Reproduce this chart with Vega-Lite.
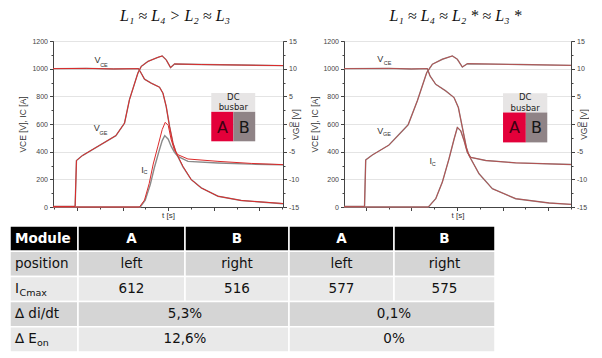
{
"$schema": "https://vega.github.io/schema/vega-lite/v6.json",
"background": "white",
"padding": {"left": 9, "top": 7, "right": 0, "bottom": 0},
"config": {
  "view": {"stroke": "#444", "strokeWidth": 1},
  "font": "Liberation Sans",
  "axis": {"labelFont": "Liberation Sans", "labelFontSize": 7, "labelColor": "#444", "titleFont": "Liberation Sans", "titleFontSize": 8.5, "titleFontWeight": "normal", "titleColor": "#333", "domainColor": "#444", "tickColor": "#444", "gridColor": "#e4e4e4"},
  "title": {"font": "Liberation Serif", "fontStyle": "italic", "fontSize": 16, "fontWeight": "normal", "color": "#111"}
},
"datasets": {
  "curves": [
    {"p":1,"m":"B","s":"VCE","t":-0.53,"v":1000},{"p":1,"m":"B","s":"VCE","t":0.2,"v":1002},{"p":1,"m":"B","s":"VCE","t":0.8,"v":998},{"p":1,"m":"B","s":"VCE","t":1.347,"v":1000},{"p":1,"m":"B","s":"VCE","t":1.407,"v":967},{"p":1,"m":"B","s":"VCE","t":1.479,"v":924},{"p":1,"m":"B","s":"VCE","t":1.626,"v":895},{"p":1,"m":"B","s":"VCE","t":1.809,"v":866},{"p":1,"m":"B","s":"VCE","t":1.884,"v":823},{"p":1,"m":"B","s":"VCE","t":1.956,"v":726},{"p":1,"m":"B","s":"VCE","t":2.029,"v":582},{"p":1,"m":"B","s":"VCE","t":2.103,"v":463},{"p":1,"m":"B","s":"VCE","t":2.176,"v":388},{"p":1,"m":"B","s":"VCE","t":2.323,"v":290},{"p":1,"m":"B","s":"VCE","t":2.505,"v":198},{"p":1,"m":"B","s":"VCE","t":2.725,"v":138},{"p":1,"m":"B","s":"VCE","t":3.092,"v":78},{"p":1,"m":"B","s":"VCE","t":3.604,"v":47},{"p":1,"m":"B","s":"VCE","t":4.52,"v":24},
    {"p":1,"m":"A","s":"VCE","t":-0.53,"v":1000},{"p":1,"m":"A","s":"VCE","t":0.2,"v":1002},{"p":1,"m":"A","s":"VCE","t":0.8,"v":998},{"p":1,"m":"A","s":"VCE","t":1.347,"v":1000},{"p":1,"m":"A","s":"VCE","t":1.407,"v":967},{"p":1,"m":"A","s":"VCE","t":1.479,"v":924},{"p":1,"m":"A","s":"VCE","t":1.626,"v":895},{"p":1,"m":"A","s":"VCE","t":1.809,"v":866},{"p":1,"m":"A","s":"VCE","t":1.884,"v":823},{"p":1,"m":"A","s":"VCE","t":1.956,"v":726},{"p":1,"m":"A","s":"VCE","t":2.029,"v":582},{"p":1,"m":"A","s":"VCE","t":2.103,"v":463},{"p":1,"m":"A","s":"VCE","t":2.176,"v":391},{"p":1,"m":"A","s":"VCE","t":2.323,"v":294},{"p":1,"m":"A","s":"VCE","t":2.505,"v":198},{"p":1,"m":"A","s":"VCE","t":2.725,"v":138},{"p":1,"m":"A","s":"VCE","t":3.092,"v":78},{"p":1,"m":"A","s":"VCE","t":3.604,"v":47},{"p":1,"m":"A","s":"VCE","t":4.52,"v":25},
    {"p":1,"m":"B","s":"IC","t":-0.53,"v":0},{"p":1,"m":"B","s":"IC","t":1.385,"v":0},{"p":1,"m":"B","s":"IC","t":1.495,"v":50},{"p":1,"m":"B","s":"IC","t":1.604,"v":160},{"p":1,"m":"B","s":"IC","t":1.692,"v":280},{"p":1,"m":"B","s":"IC","t":1.795,"v":400},{"p":1,"m":"B","s":"IC","t":1.868,"v":480},{"p":1,"m":"B","s":"IC","t":1.923,"v":516},{"p":1,"m":"B","s":"IC","t":2.0,"v":490},{"p":1,"m":"B","s":"IC","t":2.066,"v":438},{"p":1,"m":"B","s":"IC","t":2.138,"v":395},{"p":1,"m":"B","s":"IC","t":2.213,"v":366},{"p":1,"m":"B","s":"IC","t":2.433,"v":330},{"p":1,"m":"B","s":"IC","t":3.092,"v":318},{"p":1,"m":"B","s":"IC","t":3.824,"v":310},{"p":1,"m":"B","s":"IC","t":4.52,"v":305},
    {"p":1,"m":"A","s":"IC","t":-0.53,"v":0},{"p":1,"m":"A","s":"IC","t":1.369,"v":0},{"p":1,"m":"A","s":"IC","t":1.479,"v":50},{"p":1,"m":"A","s":"IC","t":1.582,"v":170},{"p":1,"m":"A","s":"IC","t":1.67,"v":310},{"p":1,"m":"A","s":"IC","t":1.774,"v":440},{"p":1,"m":"A","s":"IC","t":1.868,"v":560},{"p":1,"m":"A","s":"IC","t":1.934,"v":612},{"p":1,"m":"A","s":"IC","t":2.0,"v":590},{"p":1,"m":"A","s":"IC","t":2.066,"v":486},{"p":1,"m":"A","s":"IC","t":2.138,"v":410},{"p":1,"m":"A","s":"IC","t":2.213,"v":378},{"p":1,"m":"A","s":"IC","t":2.433,"v":347},{"p":1,"m":"A","s":"IC","t":3.092,"v":330},{"p":1,"m":"A","s":"IC","t":3.824,"v":315},{"p":1,"m":"A","s":"IC","t":4.52,"v":306},
    {"p":1,"m":"B","s":"VGE","t":-0.53,"v":-14.9},{"p":1,"m":"B","s":"VGE","t":-0.044,"v":-14.9},{"p":1,"m":"B","s":"VGE","t":-0.015,"v":-6.6},{"p":1,"m":"B","s":"VGE","t":0.116,"v":-5.7},{"p":1,"m":"B","s":"VGE","t":0.484,"v":-3.9},{"p":1,"m":"B","s":"VGE","t":0.851,"v":-2.1},{"p":1,"m":"B","s":"VGE","t":1.04,"v":0.15},{"p":1,"m":"B","s":"VGE","t":1.149,"v":4.4},{"p":1,"m":"B","s":"VGE","t":1.334,"v":9.2},{"p":1,"m":"B","s":"VGE","t":1.407,"v":10.4},{"p":1,"m":"B","s":"VGE","t":1.554,"v":11.3},{"p":1,"m":"B","s":"VGE","t":1.774,"v":12.05},{"p":1,"m":"B","s":"VGE","t":1.868,"v":12.3},{"p":1,"m":"B","s":"VGE","t":1.956,"v":11.6},{"p":1,"m":"B","s":"VGE","t":2.051,"v":10.2},{"p":1,"m":"B","s":"VGE","t":2.138,"v":10.85},{"p":1,"m":"B","s":"VGE","t":2.725,"v":10.75},{"p":1,"m":"B","s":"VGE","t":3.6,"v":10.65},{"p":1,"m":"B","s":"VGE","t":4.52,"v":10.55},
    {"p":1,"m":"A","s":"VGE","t":-0.53,"v":-14.9},{"p":1,"m":"A","s":"VGE","t":-0.044,"v":-14.9},{"p":1,"m":"A","s":"VGE","t":-0.015,"v":-6.6},{"p":1,"m":"A","s":"VGE","t":0.116,"v":-5.7},{"p":1,"m":"A","s":"VGE","t":0.484,"v":-3.9},{"p":1,"m":"A","s":"VGE","t":0.851,"v":-2.1},{"p":1,"m":"A","s":"VGE","t":1.04,"v":0.15},{"p":1,"m":"A","s":"VGE","t":1.149,"v":4.4},{"p":1,"m":"A","s":"VGE","t":1.334,"v":9.2},{"p":1,"m":"A","s":"VGE","t":1.407,"v":10.4},{"p":1,"m":"A","s":"VGE","t":1.554,"v":11.3},{"p":1,"m":"A","s":"VGE","t":1.774,"v":12.05},{"p":1,"m":"A","s":"VGE","t":1.868,"v":12.3},{"p":1,"m":"A","s":"VGE","t":1.956,"v":11.6},{"p":1,"m":"A","s":"VGE","t":2.051,"v":10.2},{"p":1,"m":"A","s":"VGE","t":2.138,"v":10.85},{"p":1,"m":"A","s":"VGE","t":2.725,"v":10.75},{"p":1,"m":"A","s":"VGE","t":3.6,"v":10.65},{"p":1,"m":"A","s":"VGE","t":4.52,"v":10.55},
    {"p":2,"m":"B","s":"VCE","t":-0.476,"v":1000},{"p":2,"m":"B","s":"VCE","t":0.5,"v":1002},{"p":2,"m":"B","s":"VCE","t":1.0,"v":998},{"p":2,"m":"B","s":"VCE","t":1.351,"v":1000},{"p":2,"m":"B","s":"VCE","t":1.41,"v":947},{"p":2,"m":"B","s":"VCE","t":1.535,"v":887},{"p":2,"m":"B","s":"VCE","t":1.754,"v":839},{"p":2,"m":"B","s":"VCE","t":1.936,"v":791},{"p":2,"m":"B","s":"VCE","t":2.031,"v":719},{"p":2,"m":"B","s":"VCE","t":2.118,"v":575},{"p":2,"m":"B","s":"VCE","t":2.206,"v":431},{"p":2,"m":"B","s":"VCE","t":2.265,"v":372},{"p":2,"m":"B","s":"VCE","t":2.485,"v":240},{"p":2,"m":"B","s":"VCE","t":2.776,"v":132},{"p":2,"m":"B","s":"VCE","t":3.289,"v":60},{"p":2,"m":"B","s":"VCE","t":4.02,"v":29},{"p":2,"m":"B","s":"VCE","t":4.5,"v":19},
    {"p":2,"m":"A","s":"VCE","t":-0.476,"v":1000},{"p":2,"m":"A","s":"VCE","t":0.5,"v":1002},{"p":2,"m":"A","s":"VCE","t":1.0,"v":998},{"p":2,"m":"A","s":"VCE","t":1.351,"v":1000},{"p":2,"m":"A","s":"VCE","t":1.41,"v":947},{"p":2,"m":"A","s":"VCE","t":1.535,"v":887},{"p":2,"m":"A","s":"VCE","t":1.754,"v":839},{"p":2,"m":"A","s":"VCE","t":1.936,"v":791},{"p":2,"m":"A","s":"VCE","t":2.031,"v":719},{"p":2,"m":"A","s":"VCE","t":2.118,"v":575},{"p":2,"m":"A","s":"VCE","t":2.206,"v":431},{"p":2,"m":"A","s":"VCE","t":2.265,"v":372},{"p":2,"m":"A","s":"VCE","t":2.485,"v":240},{"p":2,"m":"A","s":"VCE","t":2.776,"v":132},{"p":2,"m":"A","s":"VCE","t":3.289,"v":60},{"p":2,"m":"A","s":"VCE","t":4.02,"v":29},{"p":2,"m":"A","s":"VCE","t":4.5,"v":19},
    {"p":2,"m":"B","s":"IC","t":-0.476,"v":0},{"p":2,"m":"B","s":"IC","t":1.373,"v":0},{"p":2,"m":"B","s":"IC","t":1.535,"v":60},{"p":2,"m":"B","s":"IC","t":1.68,"v":180},{"p":2,"m":"B","s":"IC","t":1.827,"v":350},{"p":2,"m":"B","s":"IC","t":1.936,"v":490},{"p":2,"m":"B","s":"IC","t":2.009,"v":575},{"p":2,"m":"B","s":"IC","t":2.083,"v":551},{"p":2,"m":"B","s":"IC","t":2.156,"v":480},{"p":2,"m":"B","s":"IC","t":2.228,"v":395},{"p":2,"m":"B","s":"IC","t":2.303,"v":359},{"p":2,"m":"B","s":"IC","t":2.632,"v":336},{"p":2,"m":"B","s":"IC","t":3.289,"v":319},{"p":2,"m":"B","s":"IC","t":4.5,"v":307},
    {"p":2,"m":"A","s":"IC","t":-0.476,"v":0},{"p":2,"m":"A","s":"IC","t":1.373,"v":0},{"p":2,"m":"A","s":"IC","t":1.535,"v":60},{"p":2,"m":"A","s":"IC","t":1.68,"v":180},{"p":2,"m":"A","s":"IC","t":1.827,"v":350},{"p":2,"m":"A","s":"IC","t":1.936,"v":490},{"p":2,"m":"A","s":"IC","t":2.009,"v":577},{"p":2,"m":"A","s":"IC","t":2.083,"v":551},{"p":2,"m":"A","s":"IC","t":2.156,"v":480},{"p":2,"m":"A","s":"IC","t":2.228,"v":395},{"p":2,"m":"A","s":"IC","t":2.303,"v":359},{"p":2,"m":"A","s":"IC","t":2.632,"v":336},{"p":2,"m":"A","s":"IC","t":3.289,"v":319},{"p":2,"m":"A","s":"IC","t":4.5,"v":307},
    {"p":2,"m":"B","s":"VGE","t":-0.476,"v":-14.9},{"p":2,"m":"B","s":"VGE","t":-0.026,"v":-14.9},{"p":2,"m":"B","s":"VGE","t":0.0,"v":-6.5},{"p":2,"m":"B","s":"VGE","t":0.145,"v":-5.6},{"p":2,"m":"B","s":"VGE","t":0.511,"v":-3.8},{"p":2,"m":"B","s":"VGE","t":0.93,"v":-0.15},{"p":2,"m":"B","s":"VGE","t":1.132,"v":4.2},{"p":2,"m":"B","s":"VGE","t":1.338,"v":9.3},{"p":2,"m":"B","s":"VGE","t":1.461,"v":10.8},{"p":2,"m":"B","s":"VGE","t":1.68,"v":11.7},{"p":2,"m":"B","s":"VGE","t":1.899,"v":12.3},{"p":2,"m":"B","s":"VGE","t":2.009,"v":11.7},{"p":2,"m":"B","s":"VGE","t":2.118,"v":10.3},{"p":2,"m":"B","s":"VGE","t":2.228,"v":10.9},{"p":2,"m":"B","s":"VGE","t":3.36,"v":10.75},{"p":2,"m":"B","s":"VGE","t":4.5,"v":10.6},
    {"p":2,"m":"A","s":"VGE","t":-0.476,"v":-14.9},{"p":2,"m":"A","s":"VGE","t":-0.026,"v":-14.9},{"p":2,"m":"A","s":"VGE","t":0.0,"v":-6.5},{"p":2,"m":"A","s":"VGE","t":0.145,"v":-5.6},{"p":2,"m":"A","s":"VGE","t":0.511,"v":-3.8},{"p":2,"m":"A","s":"VGE","t":0.93,"v":-0.15},{"p":2,"m":"A","s":"VGE","t":1.132,"v":4.2},{"p":2,"m":"A","s":"VGE","t":1.338,"v":9.3},{"p":2,"m":"A","s":"VGE","t":1.461,"v":10.8},{"p":2,"m":"A","s":"VGE","t":1.68,"v":11.7},{"p":2,"m":"A","s":"VGE","t":1.899,"v":12.3},{"p":2,"m":"A","s":"VGE","t":2.009,"v":11.7},{"p":2,"m":"A","s":"VGE","t":2.118,"v":10.3},{"p":2,"m":"A","s":"VGE","t":2.228,"v":10.9},{"p":2,"m":"A","s":"VGE","t":3.36,"v":10.75},{"p":2,"m":"A","s":"VGE","t":4.5,"v":10.6}
  ],
  "legend": [
    {"p":1,"k":"hdr","t":2.945,"t2":3.91,"v":688,"v2":825},{"p":1,"k":"A","t":2.945,"t2":3.43,"v":475,"v2":688},{"p":1,"k":"B","t":3.43,"t2":3.91,"v":475,"v2":688},
    {"p":2,"k":"hdr","t":3.01,"t2":3.98,"v":683,"v2":822},{"p":2,"k":"A","t":3.01,"t2":3.51,"v":467,"v2":683},{"p":2,"k":"B","t":3.51,"t2":3.98,"v":467,"v2":683}
  ],
  "ltext": [
    {"p":1,"k":"hdr","t":3.43,"v":798,"txt":"DC\nbusbar"},{"p":1,"k":"A","t":3.19,"v":572,"txt":"A"},{"p":1,"k":"B","t":3.67,"v":572,"txt":"B"},
    {"p":2,"k":"hdr","t":3.495,"v":793,"txt":"DC\nbusbar"},{"p":2,"k":"A","t":3.26,"v":568,"txt":"A"},{"p":2,"k":"B","t":3.745,"v":568,"txt":"B"}
  ],
  "ann": [
    {"p":1,"k":"main","t":0.38,"v":1063,"txt":"V"},{"p":1,"k":"sub","t":0.505,"v":1025,"txt":"CE"},
    {"p":1,"k":"main","t":0.367,"v":571,"txt":"V"},{"p":1,"k":"sub","t":0.49,"v":538,"txt":"GE"},
    {"p":1,"k":"main","t":1.407,"v":270,"txt":"I"},{"p":1,"k":"sub","t":1.457,"v":254,"txt":"C"},
    {"p":2,"k":"main","t":0.254,"v":1069,"txt":"V"},{"p":2,"k":"sub","t":0.395,"v":1043,"txt":"CE"},
    {"p":2,"k":"main","t":0.254,"v":551,"txt":"V"},{"p":2,"k":"sub","t":0.38,"v":531,"txt":"GE"},
    {"p":2,"k":"main","t":1.4,"v":334,"txt":"I"},{"p":2,"k":"sub","t":1.447,"v":309,"txt":"C"}
  ],
  "cells": [
    {"r":0,"c0":0,"c1":1,"txt":"Module"},{"r":0,"c0":1,"c1":2,"txt":"A"},{"r":0,"c0":2,"c1":3,"txt":"B"},{"r":0,"c0":3,"c1":4,"txt":"A"},{"r":0,"c0":4,"c1":5,"txt":"B"},
    {"r":1,"c0":0,"c1":1,"txt":"position"},{"r":1,"c0":1,"c1":2,"txt":"left"},{"r":1,"c0":2,"c1":3,"txt":"right"},{"r":1,"c0":3,"c1":4,"txt":"left"},{"r":1,"c0":4,"c1":5,"txt":"right"},
    {"r":2,"c0":0,"c1":1,"txt":"I"},{"r":2,"c0":1,"c1":2,"txt":"612"},{"r":2,"c0":2,"c1":3,"txt":"516"},{"r":2,"c0":3,"c1":4,"txt":"577"},{"r":2,"c0":4,"c1":5,"txt":"575"},
    {"r":3,"c0":0,"c1":1,"txt":"∆ di/dt"},{"r":3,"c0":1,"c1":3,"txt":"5,3%"},{"r":3,"c0":3,"c1":5,"txt":"0,1%"},
    {"r":4,"c0":0,"c1":1,"txt":"∆ E"},{"r":4,"c0":1,"c1":3,"txt":"12,6%"},{"r":4,"c0":3,"c1":5,"txt":"0%"}
  ],
  "subs": [
    {"r":2,"c0":0,"txt":"Cmax"},{"r":4,"c0":0,"txt":"on"}
  ]
},
"spacing": 5,
"vconcat": [
  {
    "spacing": 9,
    "hconcat": [
      {
        "width": 230, "height": 166,
        "title": {"text": "L₁ ≈ L₄ > L₂ ≈ L₃", "dx": 7, "offset": 13},
        "encoding": {
          "x": {"field": "t", "type": "quantitative", "title": "t [s]", "scale": {"domain": [-0.53, 4.52], "nice": false, "zero": false},
                "axis": {"values": [-0.5,0,0.5,1,1.5,2,2.5,3,3.5,4,4.5], "labels": false, "grid": false, "tickSize": {"condition": {"test": "datum.value % 1 == 0", "value": 3.5}, "value": 2}, "titlePadding": 0, "titleFontSize": 8}}
        },
        "layer": [
          {
            "encoding": {
              "y": {"field": "v", "type": "quantitative", "title": "VCE [V], IC [A]", "scale": {"domain": [0, 1200], "nice": false, "zero": false},
                    "axis": {"values": [0,100,200,300,400,500,600,700,800,900,1000,1100,1200], "labelExpr": "datum.value % 200 == 0 ? '' + datum.value : ''", "labelOverlap": false, "grid": true, "gridOpacity": {"condition": {"test": "datum.value % 200 == 0", "value": 1}, "value": 0}, "tickSize": {"condition": {"test": "datum.value % 200 == 0", "value": 3.5}, "value": 2}, "labelPadding": 2, "titlePadding": 4}}
            },
            "layer": [
              {"data": {"name": "curves"}, "transform": [{"filter": "datum.p==1 && datum.m=='B' && datum.s!='VGE'"}], "mark": {"type": "line", "color": "#8a8a8a", "strokeWidth": 1.4}, "encoding": {"detail": {"field": "s"}}},
              {"data": {"name": "curves"}, "transform": [{"filter": "datum.p==1 && datum.m=='A' && datum.s!='VGE'"}], "mark": {"type": "line", "color": "#dc2a2a", "strokeWidth": 1}, "encoding": {"detail": {"field": "s"}}},
              {"data": {"name": "legend"}, "transform": [{"filter": "datum.p==1"}], "mark": {"type": "rect"}, "encoding": {"x2": {"field": "t2"}, "y2": {"field": "v2"}, "color": {"field": "k", "type": "nominal", "scale": {"domain": ["hdr","A","B"], "range": ["#e7e5e5","#e3003a","#8f8386"]}, "legend": null}}},
              {"data": {"name": "ltext"}, "transform": [{"filter": "datum.p==1 && datum.k=='hdr'"}], "mark": {"type": "text", "font": "DejaVu Sans", "fontSize": 8.5, "lineBreak": "\n", "lineHeight": 10.5, "color": "#222", "baseline": "middle"}, "encoding": {"text": {"field": "txt"}}},
              {"data": {"name": "ltext"}, "transform": [{"filter": "datum.p==1 && datum.k!='hdr'"}], "mark": {"type": "text", "font": "DejaVu Sans", "fontSize": 16, "baseline": "middle"}, "encoding": {"text": {"field": "txt"}, "color": {"condition": {"test": "datum.k=='A'", "value": "#3d0012"}, "value": "#151515"}}},
              {"data": {"name": "ann"}, "transform": [{"filter": "datum.p==1 && datum.k=='main'"}], "mark": {"type": "text", "align": "left", "baseline": "middle", "fontSize": 9, "color": "#333"}, "encoding": {"text": {"field": "txt"}}},
              {"data": {"name": "ann"}, "transform": [{"filter": "datum.p==1 && datum.k=='sub'"}], "mark": {"type": "text", "align": "left", "baseline": "middle", "fontSize": 5.5, "color": "#333"}, "encoding": {"text": {"field": "txt"}}}
            ]
          },
          {
            "data": {"name": "curves"},
            "encoding": {
              "y": {"field": "v", "type": "quantitative", "title": "VGE [V]", "scale": {"domain": [-15, 15], "nice": false, "zero": false},
                    "axis": {"orient": "right", "values": [-15,-12.5,-10,-7.5,-5,-2.5,0,2.5,5,7.5,10,12.5,15], "labelExpr": "datum.value % 5 == 0 ? '' + datum.value : ''", "labelOverlap": false, "grid": false, "tickSize": {"condition": {"test": "datum.value % 5 == 0", "value": 3.5}, "value": 2}, "labelPadding": 2, "titlePadding": 2, "titleAngle": 270}}
            },
            "layer": [
              {"transform": [{"filter": "datum.p==1 && datum.m=='B' && datum.s=='VGE'"}], "mark": {"type": "line", "color": "#8a8a8a", "strokeWidth": 1.4}},
              {"transform": [{"filter": "datum.p==1 && datum.m=='A' && datum.s=='VGE'"}], "mark": {"type": "line", "color": "#dc2a2a", "strokeWidth": 1}}
            ]
          }
        ],
        "resolve": {"scale": {"y": "independent"}}
      },
      {
        "width": 227, "height": 166,
        "title": {"text": "L₁ ≈ L₄ ≈ L₂ *  ≈ L₃ *", "dx": -2, "offset": 13},
        "encoding": {
          "x": {"field": "t", "type": "quantitative", "title": "t [s]", "scale": {"domain": [-0.476, 4.5], "nice": false, "zero": false},
                "axis": {"values": [0,0.5,1,1.5,2,2.5,3,3.5,4,4.5], "labels": false, "grid": false, "tickSize": {"condition": {"test": "datum.value % 1 == 0", "value": 3.5}, "value": 2}, "titlePadding": 0, "titleFontSize": 8}}
        },
        "layer": [
          {
            "encoding": {
              "y": {"field": "v", "type": "quantitative", "title": "VCE [V], IC [A]", "scale": {"domain": [0, 1200], "nice": false, "zero": false},
                    "axis": {"values": [0,100,200,300,400,500,600,700,800,900,1000,1100,1200], "labelExpr": "datum.value % 200 == 0 ? '' + datum.value : ''", "labelOverlap": false, "grid": true, "gridOpacity": {"condition": {"test": "datum.value % 200 == 0", "value": 1}, "value": 0}, "tickSize": {"condition": {"test": "datum.value % 200 == 0", "value": 3.5}, "value": 2}, "labelPadding": 2, "titlePadding": 3}}
            },
            "layer": [
              {"data": {"name": "curves"}, "transform": [{"filter": "datum.p==2 && datum.m=='B' && datum.s!='VGE'"}], "mark": {"type": "line", "color": "#8a8a8a", "strokeWidth": 1.4}, "encoding": {"detail": {"field": "s"}}},
              {"data": {"name": "curves"}, "transform": [{"filter": "datum.p==2 && datum.m=='A' && datum.s!='VGE'"}], "mark": {"type": "line", "color": "#c43a3a", "strokeWidth": 0.9, "opacity": 0.8}, "encoding": {"detail": {"field": "s"}}},
              {"data": {"name": "legend"}, "transform": [{"filter": "datum.p==2"}], "mark": {"type": "rect"}, "encoding": {"x2": {"field": "t2"}, "y2": {"field": "v2"}, "color": {"field": "k", "type": "nominal", "scale": {"domain": ["hdr","A","B"], "range": ["#e7e5e5","#e3003a","#8f8386"]}, "legend": null}}},
              {"data": {"name": "ltext"}, "transform": [{"filter": "datum.p==2 && datum.k=='hdr'"}], "mark": {"type": "text", "font": "DejaVu Sans", "fontSize": 8.5, "lineBreak": "\n", "lineHeight": 10.5, "color": "#222", "baseline": "middle"}, "encoding": {"text": {"field": "txt"}}},
              {"data": {"name": "ltext"}, "transform": [{"filter": "datum.p==2 && datum.k!='hdr'"}], "mark": {"type": "text", "font": "DejaVu Sans", "fontSize": 16, "baseline": "middle"}, "encoding": {"text": {"field": "txt"}, "color": {"condition": {"test": "datum.k=='A'", "value": "#3d0012"}, "value": "#151515"}}},
              {"data": {"name": "ann"}, "transform": [{"filter": "datum.p==2 && datum.k=='main'"}], "mark": {"type": "text", "align": "left", "baseline": "middle", "fontSize": 9, "color": "#333"}, "encoding": {"text": {"field": "txt"}}},
              {"data": {"name": "ann"}, "transform": [{"filter": "datum.p==2 && datum.k=='sub'"}], "mark": {"type": "text", "align": "left", "baseline": "middle", "fontSize": 5.5, "color": "#333"}, "encoding": {"text": {"field": "txt"}}}
            ]
          },
          {
            "data": {"name": "curves"},
            "encoding": {
              "y": {"field": "v", "type": "quantitative", "title": "VGE [V]", "scale": {"domain": [-15, 15], "nice": false, "zero": false},
                    "axis": {"orient": "right", "values": [-15,-12.5,-10,-7.5,-5,-2.5,0,2.5,5,7.5,10,12.5,15], "labelExpr": "datum.value % 5 == 0 ? '' + datum.value : ''", "labelOverlap": false, "grid": false, "tickSize": {"condition": {"test": "datum.value % 5 == 0", "value": 3.5}, "value": 2}, "labelPadding": 2, "titlePadding": 2, "titleAngle": 270}}
            },
            "layer": [
              {"transform": [{"filter": "datum.p==2 && datum.m=='B' && datum.s=='VGE'"}], "mark": {"type": "line", "color": "#8a8a8a", "strokeWidth": 1.4}},
              {"transform": [{"filter": "datum.p==2 && datum.m=='A' && datum.s=='VGE'"}], "mark": {"type": "line", "color": "#c43a3a", "strokeWidth": 0.9, "opacity": 0.8}}
            ]
          }
        ],
        "resolve": {"scale": {"y": "independent"}}
      }
    ]
  },
  {
    "width": 442, "height": 126,
    "view": {"stroke": null},
    "data": {"name": "cells"},
    "transform": [{"calculate": "(datum.c0 + datum.c1) / 2", "as": "mid"}],
    "encoding": {"y": {"field": "r", "type": "ordinal", "scale": {"domain": [0,1,2,3,4], "paddingInner": 0, "paddingOuter": 0}, "axis": null}},
    "layer": [
      {"mark": {"type": "rect", "stroke": "white", "strokeWidth": 1.5},
       "encoding": {"x": {"field": "c0", "type": "quantitative", "scale": {"domain": [0,1,2,3,4,5], "range": [-43,25,132,236,341,442]}, "axis": null},
                    "x2": {"field": "c1"},
                    "fill": {"field": "r", "type": "ordinal", "scale": {"domain": [0,1,2,3,4], "range": ["#000000","#d5d5d5","#e9e9e9","#d5d5d5","#e9e9e9"]}, "legend": null}}},
      {"transform": [{"filter": "datum.r==0 && datum.c0==0"}], "mark": {"type": "text", "align": "left", "dx": 5, "font": "DejaVu Sans", "fontSize": 13.5, "fontWeight": "bold", "color": "white", "baseline": "middle"},
       "encoding": {"x": {"field": "c0", "type": "quantitative", "scale": {"domain": [0,1,2,3,4,5], "range": [-43,25,132,236,341,442]}, "axis": null}, "text": {"field": "txt"}}},
      {"transform": [{"filter": "datum.r==0 && datum.c0>0"}], "mark": {"type": "text", "align": "center", "font": "DejaVu Sans", "fontSize": 13.5, "fontWeight": "bold", "color": "white", "baseline": "middle"},
       "encoding": {"x": {"field": "mid", "type": "quantitative", "scale": {"domain": [0,1,2,3,4,5], "range": [-43,25,132,236,341,442]}, "axis": null}, "text": {"field": "txt"}}},
      {"transform": [{"filter": "datum.r>0 && datum.c0==0"}], "mark": {"type": "text", "align": "left", "dx": 5, "font": "DejaVu Sans", "fontSize": 13.5, "color": "#111", "baseline": "middle"},
       "encoding": {"x": {"field": "c0", "type": "quantitative", "scale": {"domain": [0,1,2,3,4,5], "range": [-43,25,132,236,341,442]}, "axis": null}, "text": {"field": "txt"}}},
      {"transform": [{"filter": "datum.r>0 && datum.c0>0"}], "mark": {"type": "text", "align": "center", "font": "DejaVu Sans", "fontSize": 13.5, "color": "#111", "baseline": "middle"},
       "encoding": {"x": {"field": "mid", "type": "quantitative", "scale": {"domain": [0,1,2,3,4,5], "range": [-43,25,132,236,341,442]}, "axis": null}, "text": {"field": "txt"}}},
      {"data": {"name": "subs"}, "transform": [{"filter": "datum.r==2"}], "mark": {"type": "text", "align": "left", "dx": 9.5, "dy": 4, "font": "DejaVu Sans", "fontSize": 9.5, "color": "#111", "baseline": "middle"},
       "encoding": {"x": {"field": "c0", "type": "quantitative", "scale": {"domain": [0,1,2,3,4,5], "range": [-43,25,132,236,341,442]}, "axis": null}, "text": {"field": "txt"}}},
      {"data": {"name": "subs"}, "transform": [{"filter": "datum.r==4"}], "mark": {"type": "text", "align": "left", "dx": 27, "dy": 4, "font": "DejaVu Sans", "fontSize": 9.5, "color": "#111", "baseline": "middle"},
       "encoding": {"x": {"field": "c0", "type": "quantitative", "scale": {"domain": [0,1,2,3,4,5], "range": [-43,25,132,236,341,442]}, "axis": null}, "text": {"field": "txt"}}}
    ]
  }
]
}
